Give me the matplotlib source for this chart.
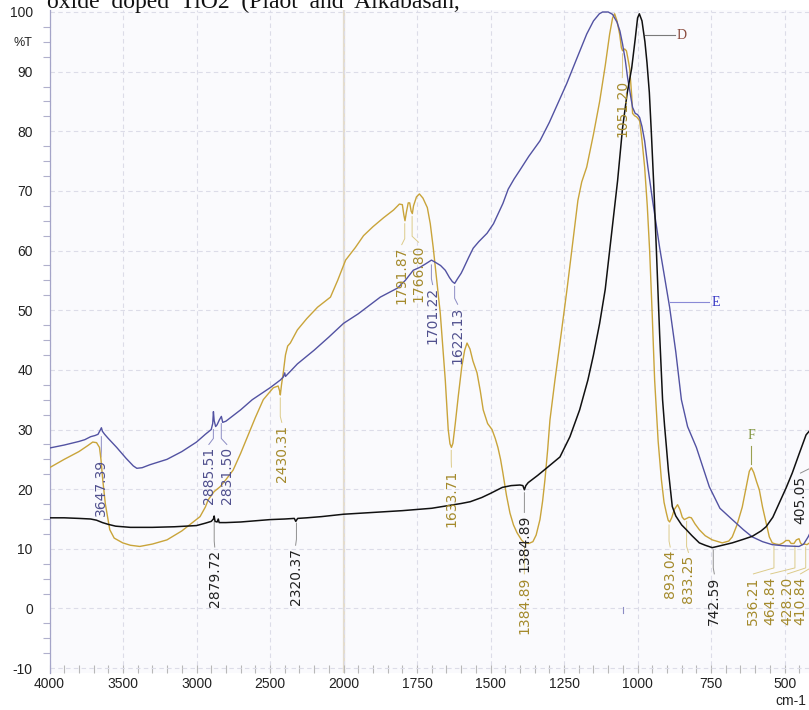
import numpy as np
import matplotlib
matplotlib.use("Agg")
import matplotlib.pyplot as plt
from matplotlib.ticker import FixedLocator

# FTIR spectra: wavenumber (cm-1) and transmittance (%T)
d_wn = [4000, 3900, 3800, 3720, 3680, 3640, 3600, 3550, 3450, 3300, 3150, 3000,
        2940, 2900, 2885, 2880, 2874, 2860, 2852, 2846, 2800, 2700, 2600, 2500,
        2400, 2335, 2325, 2320, 2312, 2250, 2150, 2000, 1900, 1800, 1700, 1650,
        1600, 1569, 1530, 1500, 1460, 1430, 1400, 1390, 1385, 1380, 1372, 1340,
        1308, 1264, 1230, 1197, 1169, 1150, 1129, 1110, 1095, 1080, 1068, 1051,
        1035, 1020, 1008, 1000, 994, 985, 975, 968, 960, 953, 945, 936, 925, 915,
        908, 902, 895, 882, 870, 850, 834, 815, 790, 770, 746, 720, 678, 640, 610,
        580, 563, 540, 518, 495, 474, 450, 427, 415, 407, 400]
d_t = [15.2, 15.2, 15.1, 15.0, 14.8, 14.4, 14.1, 13.8, 13.6, 13.6, 13.7, 13.9,
       14.3, 14.6, 15.0, 15.5, 14.6, 14.5, 15.0, 14.4, 14.4, 14.5, 14.7, 14.9,
       15.0, 15.1, 14.6, 14.8, 15.1, 15.2, 15.4, 15.8, 16.1, 16.4, 16.8, 17.2,
       17.6, 17.9, 18.6, 19.3, 20.3, 20.6, 20.7, 20.6, 19.9, 20.6, 21.1, 22.3,
       23.6, 25.4, 28.8, 33.3, 38.3, 42.5, 47.8, 53.5, 60.0, 66.5, 71.7, 80.6,
       86.5, 90.6, 95.5, 99.0, 99.7, 98.5, 95.0, 91.5, 86.5, 79.6, 71.0, 60.0, 46.0, 35.0,
       30.5, 27.1, 23.0, 17.1, 15.5, 14.0, 13.2, 12.2, 11.0, 10.6, 10.2, 10.5, 11.0, 11.6, 12.1,
       13.0, 13.7, 15.3, 17.7, 20.2, 22.7, 26.0, 29.1, 29.8, 29.9, 29.5]

e_wn = [4000, 3900, 3800, 3760, 3720, 3690, 3670, 3655, 3647, 3640, 3625, 3600,
        3543, 3480, 3430, 3406, 3370, 3317, 3201, 3100, 3000, 2940, 2900, 2890,
        2885, 2880, 2870, 2860, 2845, 2831, 2822, 2800, 2700, 2621, 2500, 2430,
        2410, 2400, 2395, 2314, 2200, 2100, 2000, 1950, 1875, 1817, 1790, 1763,
        1740, 1720, 1701, 1690, 1670, 1654, 1640, 1630, 1622, 1612, 1600, 1593,
        1575, 1559, 1540, 1512, 1490, 1458, 1440, 1420, 1400, 1370, 1332, 1300,
        1270, 1241, 1210, 1173, 1150, 1130, 1119, 1100, 1085, 1070, 1060, 1051,
        1042, 1034, 1025, 1017, 1008, 1000, 993, 985, 976, 965, 949, 937, 925,
        908, 891, 870, 851, 830, 800, 780, 756, 720, 678, 640, 610, 575, 542, 500,
        451, 435, 420, 410, 400]
e_t = [26.9, 27.4, 28.0, 28.3, 28.8, 29.0, 29.2, 29.9, 30.3, 29.7, 29.2, 28.5,
       27.0, 25.2, 23.9, 23.5, 23.6, 24.1, 25.0, 26.3, 27.9, 29.2, 30.0, 31.0,
       33.0, 31.5, 30.5, 30.8, 31.6, 32.2, 31.2, 31.4, 33.3, 35.0, 37.0, 38.3,
       38.8, 39.5, 38.9, 41.0, 43.3, 45.5, 47.8, 49.4, 52.2, 53.7, 55.0, 56.7,
       57.2, 57.8, 58.4, 58.1, 57.5, 56.7, 55.5, 54.8, 54.5, 55.3, 56.2, 56.9,
       58.8, 60.4, 61.5, 62.9, 64.5, 67.9, 70.3, 72.0, 73.5, 75.8, 78.4, 81.5,
       84.8, 88.0, 91.8, 96.3, 98.5, 99.7, 100.0, 100.0, 99.6, 98.3, 96.8, 94.6,
       92.0, 89.0, 86.3, 84.0, 83.0, 82.8, 82.3, 80.8, 78.4, 74.0, 68.4, 64.5, 60.5,
       55.5, 50.5, 43.0, 35.0, 30.5, 27.0, 24.0, 20.4, 16.8, 14.9, 13.2, 12.0, 11.2, 10.7, 10.5,
       10.4, 10.8, 12.0, 13.0, 14.0]

f_wn = [4000, 3900, 3800, 3740, 3706, 3680, 3660, 3650, 3638, 3620, 3590, 3560,
        3502, 3450, 3386, 3300, 3201, 3100, 2976, 2940, 2921, 2880, 2840, 2800,
        2751, 2700, 2650, 2600, 2546, 2478, 2445, 2435, 2430, 2422, 2410, 2395,
        2380, 2362, 2314, 2250, 2177, 2089, 2040, 1993, 1960, 1932, 1900, 1864,
        1830, 1810, 1800, 1795, 1791, 1786, 1780, 1775, 1770, 1766, 1762, 1752,
        1742, 1730, 1715, 1705, 1695, 1683, 1671, 1662, 1654, 1644, 1638, 1633,
        1628, 1620, 1610, 1598, 1588, 1580, 1570, 1560, 1546, 1535, 1525, 1510,
        1495, 1484, 1475, 1466, 1458, 1446, 1434, 1422, 1410, 1395, 1385, 1370,
        1356, 1345, 1332, 1323, 1315, 1306, 1298, 1281, 1260, 1240, 1224, 1203,
        1190, 1173, 1150, 1129, 1110, 1095, 1085, 1078, 1070, 1061, 1055, 1051,
        1044, 1038, 1034, 1027, 1020, 1017, 1010, 1003, 993, 985, 976, 967, 959,
        950, 942, 930, 919, 910, 902, 896, 891, 884, 875, 864, 856, 848, 841, 833,
        825, 817, 805, 790, 770, 746, 712, 690, 678, 662, 644, 630, 620, 613, 605,
        595, 586, 575, 563, 552, 542, 530, 518, 505, 495, 485, 478, 468, 460, 451,
        446, 441, 432, 424, 415, 400]
f_t = [23.6, 25.0, 26.3, 27.3, 27.9, 27.8, 27.0, 25.0, 21.6, 17.5, 13.2, 11.8,
       11.0, 10.6, 10.4, 10.8, 11.5, 13.0, 15.4, 17.0, 18.2, 19.6, 20.4, 21.6,
       23.2, 26.0, 29.0, 32.0, 35.0, 37.0, 37.3, 36.5, 35.8, 37.5, 39.5, 42.5,
       44.0, 44.5, 46.7, 48.6, 50.5, 52.2, 55.0, 58.4, 60.5, 62.5, 64.0, 65.5,
       66.8, 67.8, 67.7, 66.0, 65.0, 66.5, 68.0, 68.0, 66.6, 66.2, 67.5, 69.0,
       69.5, 68.8, 67.2, 64.5, 60.5, 55.0, 49.5, 43.5, 38.3, 30.0, 27.6, 27.0,
       27.7, 31.0, 35.5, 40.5, 43.3, 44.5, 43.5, 41.5, 39.5, 36.5, 33.3, 31.0,
       30.0, 28.5, 27.0, 25.0, 22.7, 19.0, 16.0, 14.0, 12.7, 11.5, 11.0, 10.9,
       11.2, 12.3, 14.9, 18.0, 21.6, 26.5, 31.6, 38.3, 46.0, 53.5, 60.0, 68.4,
       71.5, 74.0, 79.5, 85.0, 91.0, 96.3, 99.0, 99.7, 98.5, 96.3, 94.0, 93.5,
       93.8, 93.5, 92.5, 90.6, 86.0, 83.0, 82.6, 82.4, 81.8, 78.5, 74.0, 67.5, 60.0,
       49.0, 38.3, 28.0, 21.6, 17.8, 16.0, 14.8, 14.5, 15.2, 16.6, 17.4, 16.6, 15.3, 14.9, 15.1,
       15.3, 15.2, 14.2, 13.2, 12.2, 11.5, 11.0, 11.3, 12.0, 14.0, 17.0, 20.5, 23.0, 23.6, 22.8,
       21.2, 19.9, 17.0, 14.4, 12.0, 11.0, 10.8, 10.7, 11.0, 11.4, 11.4, 10.9, 10.9, 11.5, 11.7,
       11.0, 10.7, 10.8, 10.7, 11.0, 11.2]

# peak labels of each spectrum
d_peaks = ["2879.72", "2320.37", "1384.89", "742.59", "405.05"]
e_peaks = ["3647.39", "2885.51", "2831.50", "1701.22", "1622.13"]
f_peaks = ["2430.31", "1791.87", "1766.80", "1633.71", "1384.89", "1051.20",
           "893.04", "833.25", "536.21", "464.84", "428.20", "410.84"]

x_major = [4000, 3500, 3000, 2500, 2000, 1750, 1500, 1250, 1000, 750, 500]
y_major = [100, 90, 80, 70, 60, 50, 40, 30, 20, 10, 0, -10]

# label placement: text x, text top, leader start (all in data units)
d_place = [(2876, 9.9, 14.5), (2326, 10.2, 14.3), (1385, 15.7, 19.4),
           (739, 5.4, 9.8), (446, 22.3, 28.8)]
e_place = [(3650, 25.0, 28.8), (2916, 27.1, 30.0), (2794, 27.1, 31.0),
           (1697, 53.9, 57.6), (1612, 50.6, 54.0)]
f_place = [(2420, 30.8, 35.3), (1802, 60.6, 64.5), (1745, 61.0, 65.7),
           (1633, 23.3, 26.5), (1385, 5.4, 10.5), (1052, 88.6, 93.0),
           (889, 9.9, 14.0), (827, 9.0, 14.6), (606, 5.4, 10.4),
           (547, 5.4, 10.5), (490, 5.4, 10.3), (446, 5.4, 10.3)]

D_COL, E_COL, F_COL = "#111111", "#5252a2", "#c9a43a"
D_TXT, E_TXT, F_TXT = "#222222", "#50508e", "#a48a2c"
LABEL_FONT = ["Liberation Sans Narrow", "DejaVu Sans"]


def fwd(w):
    w = np.asarray(w, dtype=float)
    return np.where(w > 2000, 2000 + (w - 2000) / 2, w)


def inv(p):
    p = np.asarray(p, dtype=float)
    return np.where(p > 2000, 2000 + (p - 2000) * 2, p)


fig = plt.figure(figsize=(8.09, 7.10), dpi=100)
W, H = 809, 710
ax = fig.add_axes([49.5 / W, (H - 672.9) / H, (814 - 49.5) / W, (672.9 - 10.2) / H])
ax.set_facecolor("#fafafd")
ax.set_xscale("function", functions=(fwd, inv))
ax.set_xlim(4000, 400)
ax.set_ylim(-10.8, 100.3)

for s in ["top", "right", "bottom"]:
    ax.spines[s].set_visible(False)
ax.spines["left"].set_color("#a4a4c8")
ax.spines["left"].set_linewidth(0.9)

ax.xaxis.set_major_locator(FixedLocator(x_major))
x_minor = [w for w in range(3900, 2000, -100) if w % 500] + \
          [w for w in range(1950, 400, -50) if w % 250]
ax.xaxis.set_minor_locator(FixedLocator(x_minor))
ax.yaxis.set_major_locator(FixedLocator(y_major))
ax.yaxis.set_minor_locator(FixedLocator(
    [v / 2 for v in range(-20, 201, 5) if v % 20]))
ax.set_xticklabels([str(v) for v in x_major])
ax.set_yticklabels([str(v) for v in y_major])

ax.tick_params(axis="x", which="both", direction="in", length=6, color="#b8b8b8",
               width=0.8, pad=3, labelsize=10, labelcolor="#222222")
ax.tick_params(axis="y", which="major", length=0, pad=12, labelsize=10,
               labelcolor="#222222")
ax.tick_params(axis="y", which="minor", direction="out", length=5, color="#b0b0cc",
               width=0.8)
for lab in ax.get_xticklabels() + ax.get_yticklabels():
    lab.set_family(["Liberation Sans", "DejaVu Sans"])

ax.grid(which="major", linestyle=(0, (4, 3)), color="#dcdce8", linewidth=0.8)
ax.axvline(2000, color="#e4dccd", linewidth=1.6, zorder=1)

ax.plot(f_wn, f_t, color=F_COL, lw=1.0, zorder=3)
ax.plot(e_wn, e_t, color=E_COL, lw=1.0, zorder=3)
ax.plot(d_wn, d_t, color=D_COL, lw=1.1, zorder=4)


def mark_peaks(labels, places, line_col, text_col):
    for lab, (tx, top, start) in zip(labels, places):
        pk = float(lab)
        ax.plot([pk, pk, tx], [start, top + 1.4, top + 0.4], color=line_col,
                lw=0.7, zorder=2)
        ax.text(tx, top, lab, rotation=90, ha="center", va="top", fontsize=10,
                color=text_col, family=LABEL_FONT, zorder=5)


mark_peaks(d_peaks, d_place, "#909090", D_TXT)
mark_peaks(e_peaks, e_place, "#8c8cc4", E_TXT)
mark_peaks(f_peaks, f_place, "#dccb8a", F_TXT)

# sample tags
ax.plot([974, 874], [96.1, 96.1], color="#7a7a7a", lw=0.8)
ax.text(866, 96.1, "D", ha="left", va="center", fontsize=10, color="#8a4a3c",
        family=["Liberation Serif", "DejaVu Serif"])
ax.plot([891, 756], [51.3, 51.3], color="#8a8ad6", lw=0.8)
ax.text(750, 51.3, "E", ha="left", va="center", fontsize=10, color="#3434c4",
        family=["Liberation Serif", "DejaVu Serif"])
ax.plot([614, 614], [27.3, 24.3], color="#9aa050", lw=0.8)
ax.text(614, 29.0, "F", ha="center", va="center", fontsize=10, color="#80943c",
        family=["Liberation Serif", "DejaVu Serif"])
ax.plot([1048, 1048], [0.3, -0.7], color="#8c8cc4", lw=0.8)

ax.text(-0.0229, 94.8, "%T", transform=ax.get_yaxis_transform(), ha="right",
        va="center", fontsize=9, color="#222222",
        family=["Liberation Sans", "DejaVu Sans"])
fig.text(806 / W, 1 - 701 / H, "cm-1", ha="right", va="center", fontsize=10,
         color="#222222", family=["Liberation Sans", "DejaVu Sans"])
fig.text(47 / W, 1 - 8 / H, "oxide  doped  TiO2  (Plaot  and  Alkabasan,",
         ha="left", va="baseline", fontsize=17, color="#111111",
         family=["Liberation Serif", "DejaVu Serif"])

fig.savefig("out.png", dpi=100)
